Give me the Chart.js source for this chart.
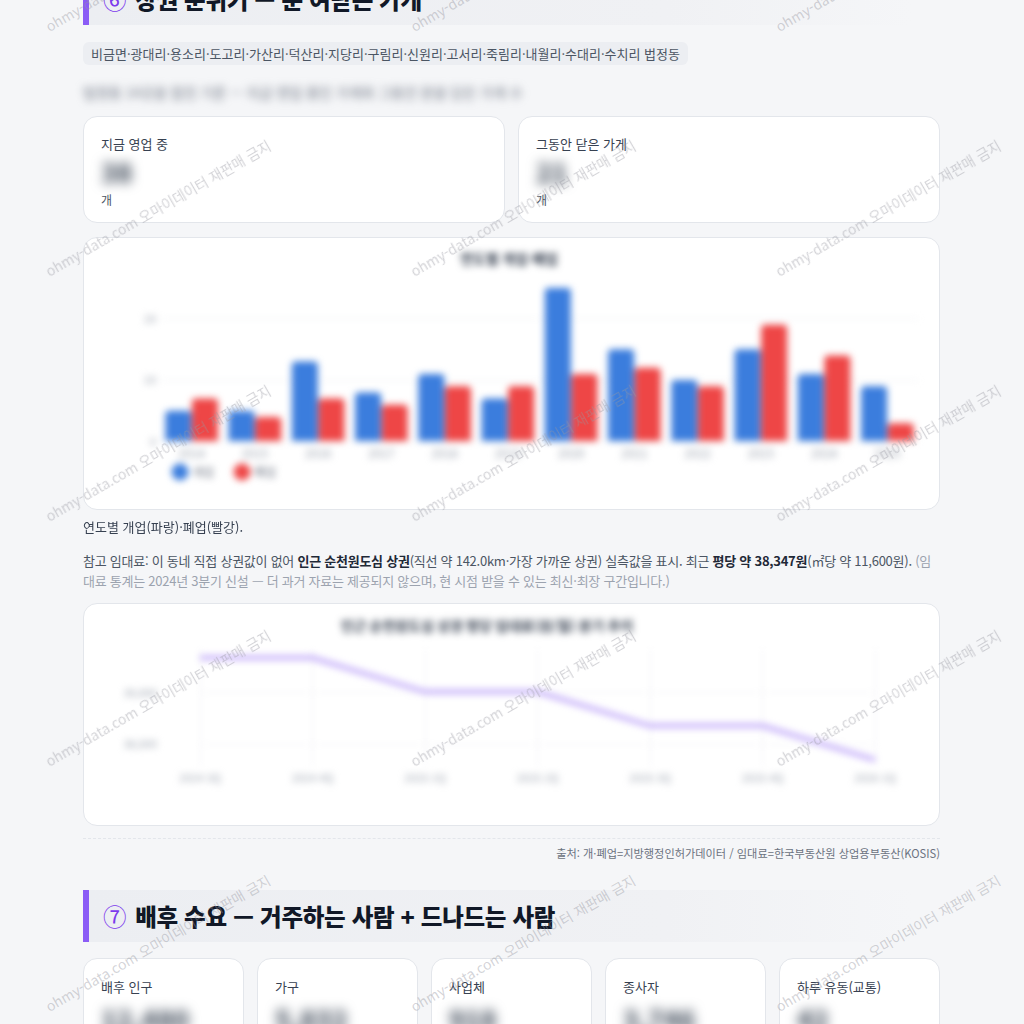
<!DOCTYPE html>
<html lang="ko">
<head>
<meta charset="utf-8">
<script src="https://cdn.jsdelivr.net/npm/chart.js@4.4.1/dist/chart.umd.min.js"></script>
<style>
*{box-sizing:border-box;margin:0;padding:0}
html,body{width:1024px;height:1024px;overflow:hidden;background:#f5f6f8;font-family:"Noto Sans CJK KR","Noto Sans",sans-serif;color:#374151}
.h2{position:absolute;left:83px;width:830px;height:52px;background:linear-gradient(90deg,#eceef2 0%,#f0f1f4 70%,rgba(245,246,248,0) 100%);border-left:6px solid #8b5cf6;display:flex;align-items:center;padding-left:14px;font-size:23.5px;font-weight:800;color:#111827;letter-spacing:-0.3px}
.h2 .n{color:#7c3aed;font-weight:400;margin-right:9px}
.card{position:absolute;background:#fff;border:1px solid #e3e6eb;border-radius:14px}
.lbl{position:absolute;font-size:13px;color:#374151;white-space:nowrap}
.val{position:absolute;font-size:26px;font-weight:800;color:#4b5563;filter:blur(6px);white-space:nowrap}
.unit{position:absolute;font-size:12px;color:#4b5563}
.chip{position:absolute;left:83px;top:42px;height:23px;padding:0 8px;background:#eceef2;border-radius:6px;font-size:13px;line-height:23px;color:#4b5563;white-space:nowrap}
.wm{position:absolute;font-size:14px;color:rgba(150,150,160,0.42);white-space:nowrap;transform:rotate(-30deg);transform-origin:0 100%;line-height:1;pointer-events:none;z-index:50}
canvas{filter:blur(3.5px);display:block}
.p{position:absolute;left:83px;width:857px;font-size:13px;line-height:20px;color:#4b5563}
.p b{color:#1f2937;font-weight:700}
.muted{color:#9ca3af}
</style>
</head>
<body>
<div class="h2" style="top:-27px"><span class="n">⑥</span>상권 분위기 — 문 여닫는 가게</div>
<div class="chip">비금면·광대리·용소리·도고리·가산리·덕산리·지당리·구림리·신원리·고서리·죽림리·내월리·수대리·수치리 법정동</div>
<div class="p" style="top:82px;font-size:14px;color:#6b7280;filter:blur(4px);white-space:nowrap">법정동 14곳을 합친 기준 — 지금 영업 중인 가게와 그동안 문을 닫은 가게 수</div>

<div class="card" style="left:83px;top:116px;width:422px;height:107px">
  <div class="lbl" style="left:17px;top:17px">지금 영업 중</div>
  <div class="val" style="left:17px;top:36px">38</div>
  <div class="unit" style="left:17px;top:74px">개</div>
</div>
<div class="card" style="left:518px;top:116px;width:422px;height:107px">
  <div class="lbl" style="left:17px;top:17px">그동안 닫은 가게</div>
  <div class="val" style="left:17px;top:36px">21</div>
  <div class="unit" style="left:17px;top:74px">개</div>
</div>

<div class="card" style="left:83px;top:237px;width:857px;height:273px">
  <div style="position:absolute;left:15px;top:6px"><canvas id="bar" width="826" height="268"></canvas></div>
</div>

<div class="p" style="top:517px;color:#374151">연도별 개업(파랑)·폐업(빨강).</div>
<div class="p" style="top:551px;letter-spacing:-0.25px">참고 임대료: 이 동네 직접 상권값이 없어 <b>인근 순천원도심 상권</b>(직선 약 142.0km·가장 가까운 상권) 실측값을 표시. 최근 <b>평당 약 38,347원</b>(㎡당 약 11,600원). <span class="muted">(임대료 통계는 2024년 3분기 신설 — 더 과거 자료는 제공되지 않으며, 현 시점 받을 수 있는 최신·최장 구간입니다.)</span></div>

<div class="card" style="left:83px;top:603px;width:857px;height:223px">
  <div style="position:absolute;left:15px;top:6px"><canvas id="line" width="826" height="190"></canvas></div>
</div>

<div style="position:absolute;left:83px;top:838px;width:857px;border-top:1px dashed #e3e6eb"></div>
<div style="position:absolute;right:84px;top:845px;font-size:11.2px;color:#6b7280;white-space:nowrap">출처: 개·폐업=지방행정인허가데이터 / 임대료=한국부동산원 상업용부동산(KOSIS)</div>

<div class="h2" style="top:890px"><span class="n">⑦</span>배후 수요 — 거주하는 사람 + 드나드는 사람</div>

<div class="card" style="left:83px;top:958px;width:161px;height:90px"><div class="lbl" style="left:17px;top:18px">배후 인구</div><div class="val" style="left:17px;top:41px">12,480</div></div>
<div class="card" style="left:257px;top:958px;width:161px;height:90px"><div class="lbl" style="left:17px;top:18px">가구</div><div class="val" style="left:17px;top:41px">5,832</div></div>
<div class="card" style="left:431px;top:958px;width:161px;height:90px"><div class="lbl" style="left:17px;top:18px">사업체</div><div class="val" style="left:17px;top:41px">918</div></div>
<div class="card" style="left:605px;top:958px;width:161px;height:90px"><div class="lbl" style="left:17px;top:18px">종사자</div><div class="val" style="left:17px;top:41px">3,746</div></div>
<div class="card" style="left:779px;top:958px;width:161px;height:90px"><div class="lbl" style="left:17px;top:18px">하루 유동(교통)</div><div class="val" style="left:17px;top:41px">42</div></div>

<div id="wms"></div>

<script>
// ---- data ----
const years = ['2014','2015','2016','2017','2018','2019','2020','2021','2022','2023','2024','2025'];
const openCounts  = [5, 5, 13, 8, 11, 7, 25, 15, 10, 15, 11, 9];
const closeCounts = [7, 4, 7, 6, 9, 9, 11, 12, 9, 19, 14, 3];
const barTickValues = [0, 10, 20];

const quarters = ['2024 3Q','2024 4Q','2025 1Q','2025 2Q','2025 3Q','2025 4Q','2026 1Q'];
const rentPerPyeong = [39339, 39339, 39008, 39008, 38678, 38678, 38347];
const rentTickValues = [38500, 39000];

const wmText = 'ohmy-data.com 오마이데이터 재판매 금지';

// watermarks
(function(){
  const host = document.getElementById('wms');
  const cols = [50, 415, 780];
  const rows = [33, 278, 523, 768, 1013, 1258];
  rows.forEach(r => cols.forEach(c => {
    const s = document.createElement('span');
    s.className = 'wm';
    s.textContent = wmText;
    s.style.left = c + 'px';
    s.style.top = (r - 14) + 'px';
    host.appendChild(s);
  }));
})();

const FONT = '"Noto Sans CJK KR", "Noto Sans", sans-serif';
Chart.defaults.font.family = FONT;
Chart.defaults.animation = false;

const legendShift = {
  id: 'legendShift',
  afterLayout(chart) {
    const l = chart.legend;
    if (l) { l.top -= 22; l.bottom -= 22; l.left -= 8; l.right -= 8; }
  }
};

new Chart(document.getElementById('bar'), {
  type: 'bar',
  data: {
    labels: years,
    datasets: [
      {label: '개업', data: openCounts, backgroundColor: '#3b7ddd', borderRadius: 4, categoryPercentage: 0.84, barPercentage: 0.98},
      {label: '폐업', data: closeCounts, backgroundColor: '#ee4646', borderRadius: 4, categoryPercentage: 0.84, barPercentage: 0.98}
    ]
  },
  plugins: [legendShift],
  options: {
    responsive: false,
    layout: {padding: {left: 0, right: 6, bottom: 2}},
    plugins: {
      title: {display: true, text: '연도별 개업·폐업', color: '#374151', font: {size: 14, weight: 'bold'}, padding: {top: 6, bottom: 21}},
      legend: {position: 'bottom', align: 'start', fullSize: false,
        labels: {usePointStyle: true, pointStyle: 'circle', boxWidth: 12, boxHeight: 12, color: '#6b7280', font: {size: 12}, padding: 22}},
      tooltip: {enabled: false}
    },
    scales: {
      x: {grid: {display: false, drawTicks: false}, border: {display: false},
          ticks: {color: '#9ca3af', font: {size: 12}, padding: 5}},
      y: {min: 0, max: 25, grid: {color: '#eef0f3', drawTicks: false}, border: {display: false},
          ticks: {color: '#9ca3af', font: {size: 11}, padding: 4},
          afterBuildTicks: s => { s.ticks = barTickValues.map(v => ({value: v})); },
          afterFit: s => { s.width = 61; }}
    }
  }
});

new Chart(document.getElementById('line'), {
  type: 'line',
  data: {
    labels: quarters,
    datasets: [{label: '평당 임대료', data: rentPerPyeong, borderColor: 'rgba(150,110,245,0.58)', borderWidth: 4.5, pointRadius: 0, tension: 0, fill: false}]
  },
  options: {
    responsive: false,
    layout: {padding: {right: 50, bottom: 11}},
    plugins: {
      title: {display: true, text: '인근 순천원도심 상권 평당 임대료(원/월) 분기 추이', color: '#374151', font: {size: 14, weight: 'bold'}, padding: {top: 7, bottom: 15}},
      legend: {display: false},
      tooltip: {enabled: false}
    },
    scales: {
      x: {grid: {color: '#f1f2f5', drawTicks: false}, border: {display: false},
          ticks: {color: '#9ca3af', font: {size: 11}, padding: 5}},
      y: {min: 38290, max: 39426, grid: {color: '#f1f2f5', drawTicks: false}, border: {display: false},
          ticks: {color: '#9ca3af', font: {size: 11}, padding: 43, callback: v => v.toLocaleString('en-US')},
          afterBuildTicks: s => { s.ticks = rentTickValues.map(v => ({value: v})); },
          afterFit: s => { s.width = 101; s.paddingTop = 0; s.paddingBottom = 0; }}
    }
  }
});
</script>
</body>
</html>
